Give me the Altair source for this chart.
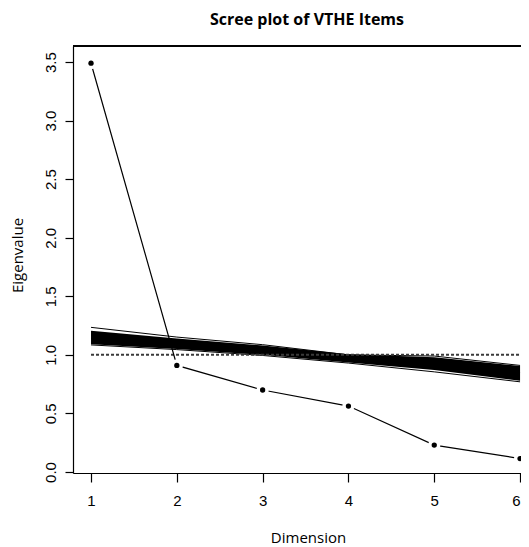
import altair as alt
import pandas as pd

# Observed eigenvalues
dims = [1, 2, 3, 4, 5, 6]
observed = [3.49, 0.91, 0.70, 0.563, 0.23, 0.115]

# Simulated (parallel analysis) band
band_lower = [1.09, 1.05, 1.00, 0.935, 0.87, 0.78]
band_upper = [1.205, 1.14, 1.08, 1.005, 0.98, 0.905]
sim_top = [1.235, 1.152, 1.087, 1.00, 0.99, 0.91]
sim_mid = [1.17, 1.10, 1.04, 0.97, 0.93, 0.85]
sim_bottom = [1.085, 1.045, 0.995, 0.93, 0.855, 0.77]
ref_level = [1.0, 1.0]
ref_x = [1, 6]

y_ticks = [0.0, 0.5, 1.0, 1.5, 2.0, 2.5, 3.0, 3.5]

obs_df = pd.DataFrame({"Dimension": dims, "Eigenvalue": observed})
band_df = pd.DataFrame({"Dimension": dims, "lo": band_lower, "hi": band_upper})
sim_rows = []
for name, vals in [("top", sim_top), ("mid", sim_mid), ("bottom", sim_bottom)]:
    for d, v in zip(dims, vals):
        sim_rows.append({"Dimension": d, "Eigenvalue": v, "sim": name})
sim_df = pd.DataFrame(sim_rows)
ref_df = pd.DataFrame({"Dimension": ref_x, "Eigenvalue": ref_level})

xscale = alt.Scale(domain=[0.79, 6.011], nice=False, zero=False)
yscale = alt.Scale(domain=[-0.0085, 3.637], nice=False, zero=False)

tick_font = "Liberation Sans Narrow, Liberation Sans, Arial"

x_axis = alt.Axis(
    values=dims, format="d", title="Dimension", grid=False,
    domainColor="black", domainWidth=1.2, tickColor="black", tickWidth=1.2, tickSize=9,
    labelFont=tick_font, labelFontSize=15, labelColor="black", labelPadding=11,
    titleFont="Open Sans", titleFontSize=15, titleFontWeight="normal", titleColor="black",
    titleX=235, titleY=64, titleBaseline="middle", titleAnchor="start", titleAlign="center",
)
y_axis = alt.Axis(
    values=y_ticks, format=".1f", title="Eigenvalue", grid=False,
    domainColor="black", domainWidth=1.2, tickColor="black", tickWidth=1.2, tickSize=8,
    labelFont=tick_font, labelFontSize=15, labelColor="black", labelAngle=270,
    labelAlign="center", labelBaseline="bottom", labelPadding=7,
    titleFont="Open Sans", titleFontSize=15, titleFontWeight="normal", titleColor="black",
    titleAngle=270, titleX=-51, titleY=209, titleBaseline="alphabetic", titleAlign="center",
    titleAnchor="start",
)

x_enc = alt.X("Dimension:Q", scale=xscale, axis=x_axis)

band = alt.Chart(band_df).mark_area(color="black", opacity=1).encode(
    x=x_enc,
    y=alt.Y("lo:Q", scale=yscale, axis=y_axis),
    y2="hi:Q",
)

sims = alt.Chart(sim_df).mark_line(color="black", strokeWidth=1).encode(
    x=alt.X("Dimension:Q", scale=xscale),
    y=alt.Y("Eigenvalue:Q", scale=yscale),
    detail="sim:N",
)

ref = alt.Chart(ref_df).mark_line(color="#3a3a3a", strokeWidth=2, strokeDash=[3, 2]).encode(
    x=alt.X("Dimension:Q", scale=xscale),
    y=alt.Y("Eigenvalue:Q", scale=yscale),
)

obs_line = alt.Chart(obs_df).mark_line(color="black", strokeWidth=1.2).encode(
    x=alt.X("Dimension:Q", scale=xscale),
    y=alt.Y("Eigenvalue:Q", scale=yscale),
)

gaps = alt.Chart(obs_df).mark_point(filled=True, color="white", opacity=1, size=150, shape="circle").encode(
    x=alt.X("Dimension:Q", scale=xscale),
    y=alt.Y("Eigenvalue:Q", scale=yscale),
)

pts = alt.Chart(obs_df).mark_point(filled=True, color="black", opacity=1, size=28, shape="circle").encode(
    x=alt.X("Dimension:Q", scale=xscale),
    y=alt.Y("Eigenvalue:Q", scale=yscale),
)

top_border = alt.Chart(obs_df).mark_rule(color="black", strokeWidth=1.2).encode(
    x=alt.value(0), x2=alt.value(448), y=alt.value(0)
)

chart = alt.layer(band, sims, ref, obs_line, gaps, pts, top_border).properties(
    width=448,
    height=427,
    padding={"left": 65, "top": 38, "right": 0, "bottom": 73},
    autosize=alt.AutoSizeParams(type="none"),
    title=alt.Title(
        "Scree plot of VTHE Items", font="Open Sans", fontSize=16, fontWeight="bold",
        color="black", anchor="middle", dx=10, offset=17,
    ),
).configure_view(stroke=None).configure(background="white")

chart.save("out.html", embed_options={"renderer": "svg", "actions": False})
